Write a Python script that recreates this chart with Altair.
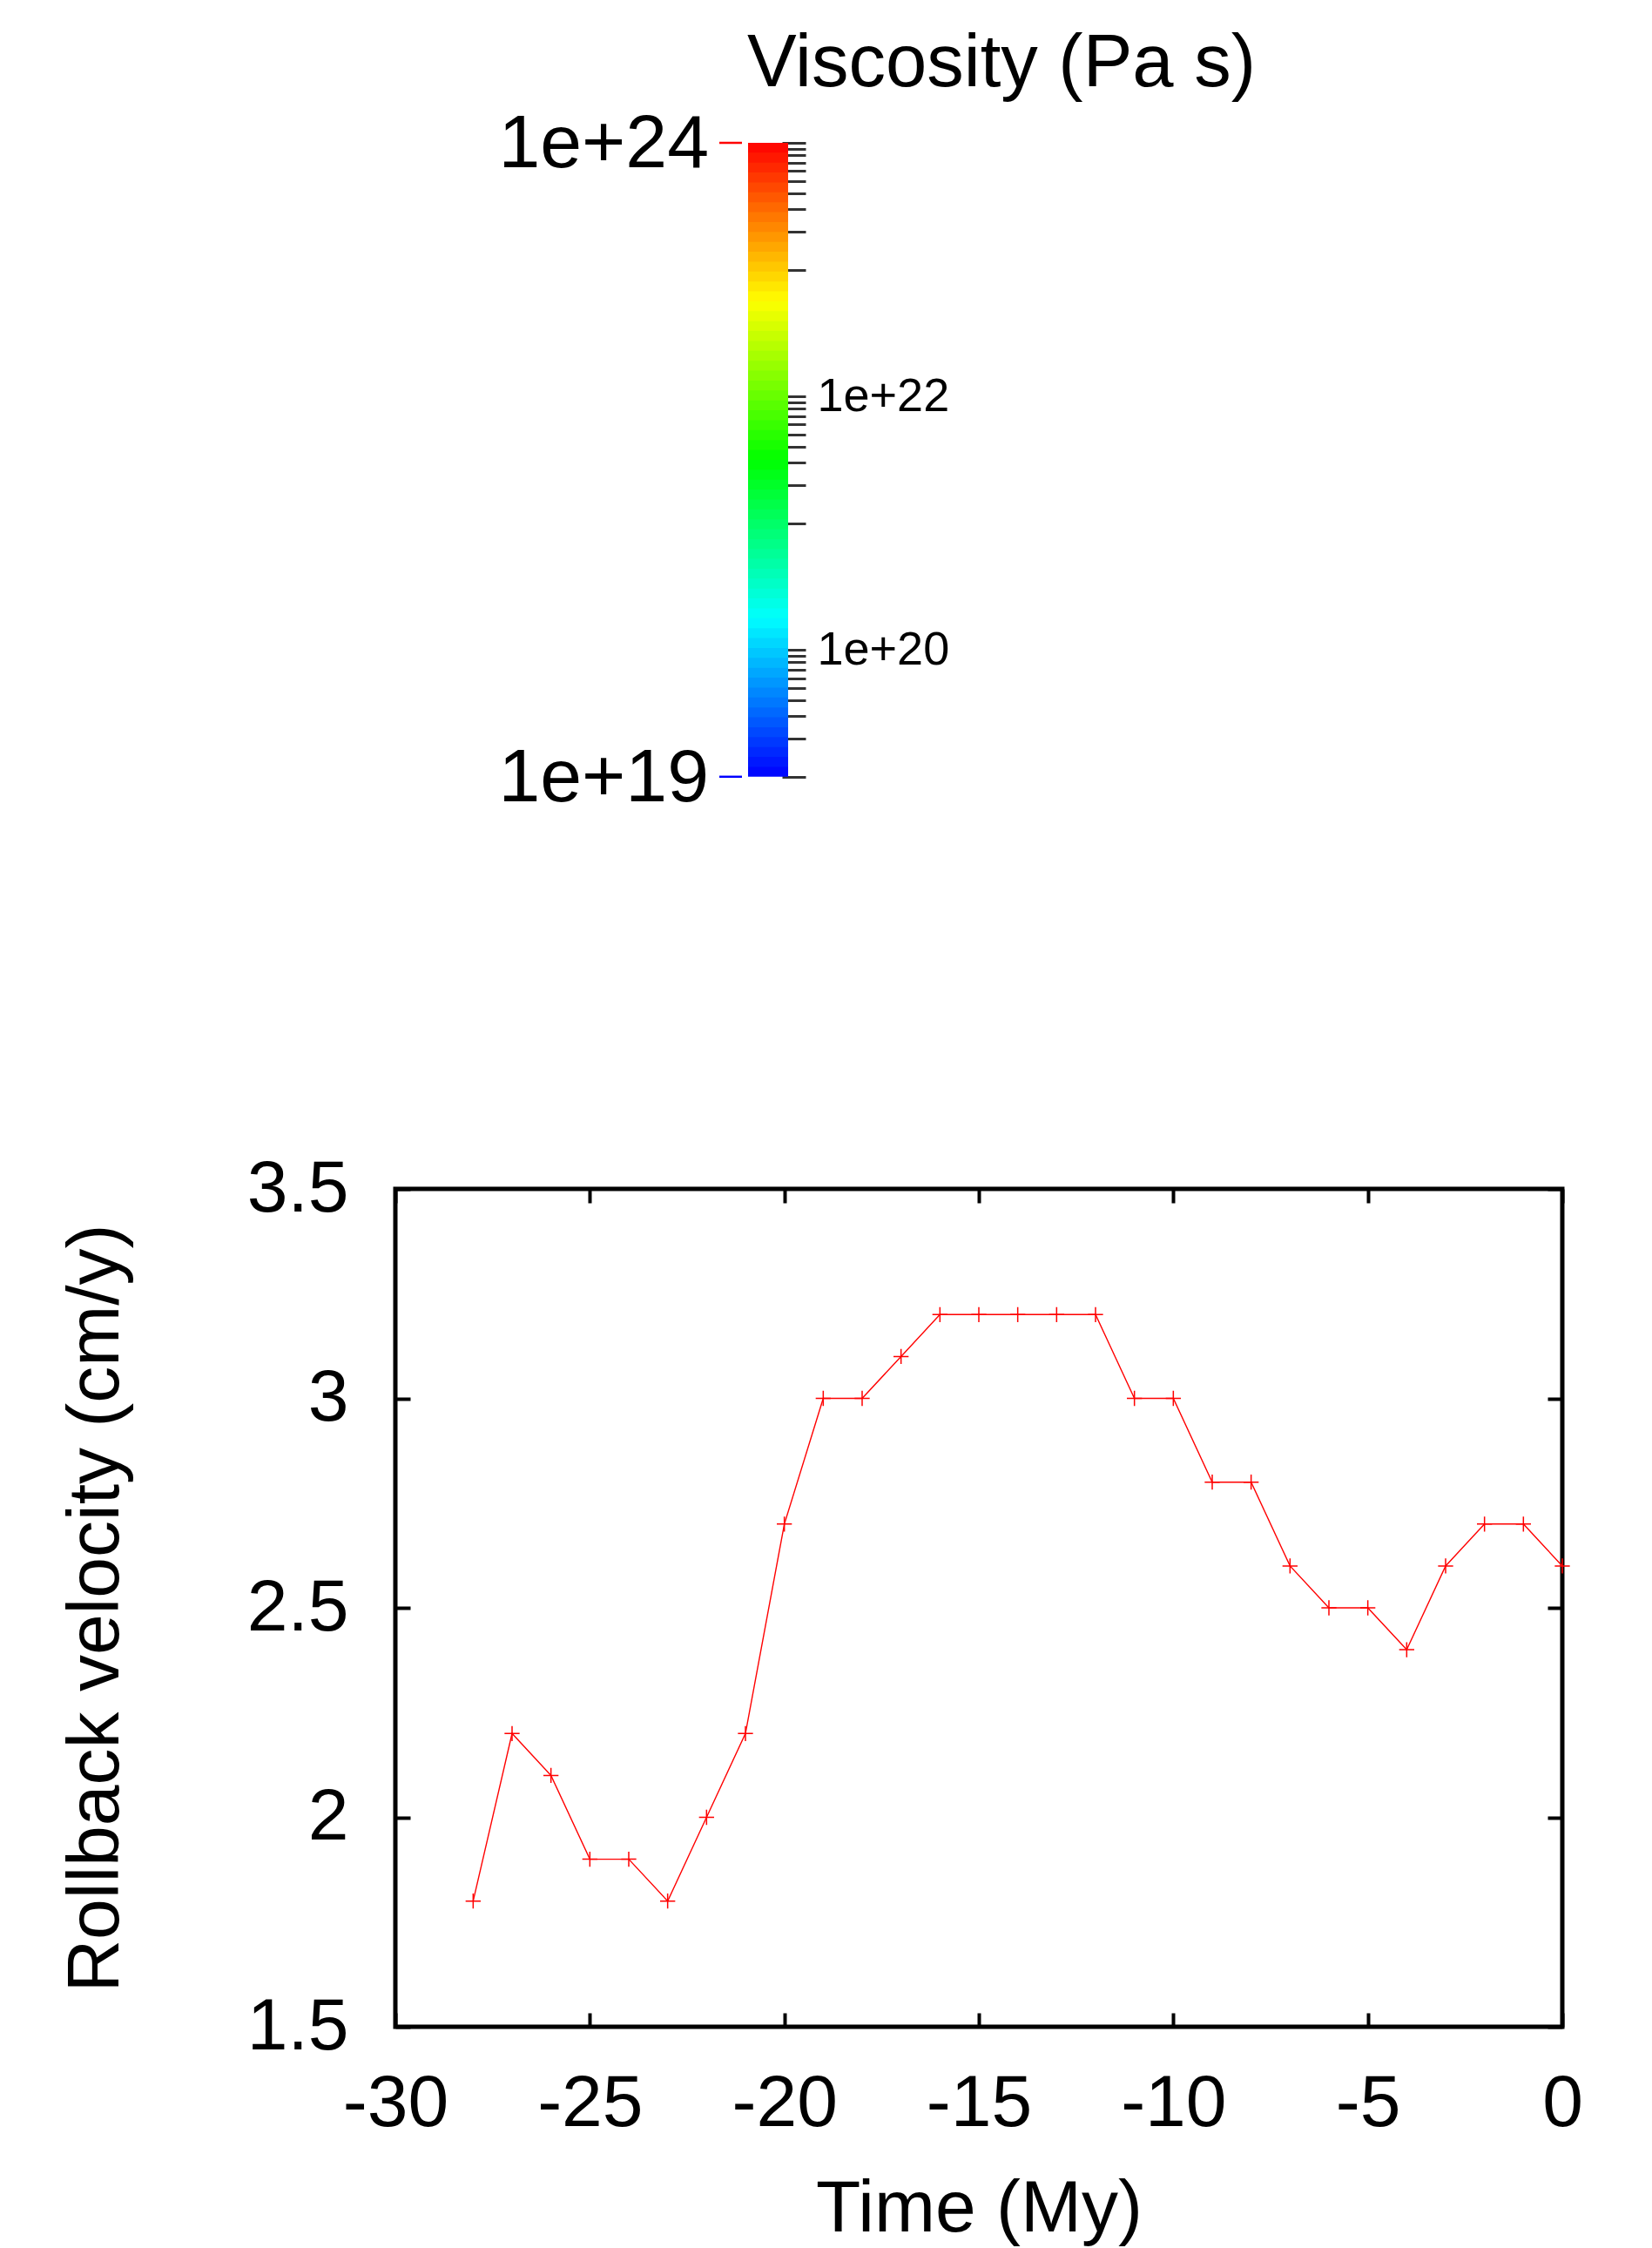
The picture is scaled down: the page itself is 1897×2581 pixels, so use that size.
import altair as alt
import pandas as pd
import numpy as np

# ---------------- data ----------------
time_my = [-28, -27, -26, -25, -24, -23, -22, -21, -20, -19, -18, -17, -16, -15,
           -14, -13, -12, -11, -10, -9, -8, -7, -6, -5, -4, -3, -2, -1, 0]
rollback = [1.8, 2.2, 2.1, 1.9, 1.9, 1.8, 2.0, 2.2, 2.7, 3.0, 3.0, 3.1, 3.2, 3.2,
            3.2, 3.2, 3.2, 3.0, 3.0, 2.8, 2.8, 2.6, 2.5, 2.5, 2.4, 2.6, 2.7, 2.7, 2.6]

x_domain = [-30, 0]
y_domain = [1.5, 3.5]
x_ticks = [-30, -25, -20, -15, -10, -5, 0]
y_ticks = [1.5, 2, 2.5, 3, 3.5]

# colour bar (viscosity, log scale)
cbar_domain = [1e19, 1e24]
cbar_end_values = [1e24, 1e19]
cbar_end_labels = ["1e+24", "1e+19"]
cbar_end_colors = ["#ff0000", "#0000ff"]
cbar_major_values = [1e22, 1e20]
cbar_minor_mantissas = [9, 8, 7, 6, 5, 4, 3, 2, 1]
cbar_minor_decades = [23, 21, 19]
cbar_colors = ["#0000ff", "#00ffff", "#00ff00", "#ffff00", "#ff0000"]
cbar_n_bands = 64

# ---------------- layout (chart coordinates) ----------------
W, H = 1870, 2573
FX0, FX1, FY0, FY1 = 446, 1786, 1357, 2319
FONT = "Liberation Sans"

XS = alt.Scale(domain=x_domain, range=[FX0, FX1], nice=False, zero=False)
YS = alt.Scale(domain=y_domain, range=[FY1, FY0], nice=False, zero=False)
CS = alt.Scale(type="log", domain=cbar_domain, range=[883.8, 156], nice=False)

df = pd.DataFrame({"time": time_my, "vel": rollback})
frame_df = pd.DataFrame({"x0": [x_domain[0]], "x1": [x_domain[1]],
                         "y0": [y_domain[0]], "y1": [y_domain[1]]})

minor_vals = [1e24] + [m * 10.0 ** d for d in cbar_minor_decades for m in cbar_minor_mantissas]
lo_exp = np.log10(cbar_domain[0])
hi_exp = np.log10(cbar_domain[1])
band_df = pd.DataFrame({
    "lo": [10 ** (lo_exp + (hi_exp - lo_exp) * k / cbar_n_bands) for k in range(cbar_n_bands)],
    "top": [cbar_domain[1]] * cbar_n_bands,
    "t": [(k + 0.5) / cbar_n_bands for k in range(cbar_n_bands)],
})
end_df = pd.DataFrame({"v": cbar_end_values, "lab": cbar_end_labels, "c": cbar_end_colors})
title_df = pd.DataFrame({"txt": ["Viscosity (Pa s)"]})

tick_common = dict(labels=False, domain=False, grid=False, ticks=True,
                   tickColor="black", tickWidth=4, title=None)

# ---------------- line chart ----------------
line = alt.Chart(df).mark_line(color="#ff0000", strokeWidth=1.4).encode(
    x=alt.X("time:Q", scale=XS, axis=alt.Axis(
        orient="bottom", offset=FY1 - H, values=x_ticks, ticks=False, tickSize=0,
        domain=False, grid=False, labelPadding=47, labelFlush=False,
        labelBaseline="top", labelFont=FONT, labelFontSize=84, labelColor="black",
        labelExpr="'' + datum.value",
        title="Time (My)", titleFont=FONT, titleFontSize=84, titleFontWeight="normal",
        titleColor="black", titleY=234, titleBaseline="alphabetic")),
    y=alt.Y("vel:Q", scale=YS, axis=alt.Axis(
        orient="left", offset=-FX0, values=y_ticks, ticks=False, tickSize=0,
        domain=False, grid=False, labelPadding=54, labelFlush=False,
        labelBaseline="middle", labelAlign="right", labelFont=FONT, labelFontSize=84,
        labelColor="black", labelExpr="'' + datum.value",
        title="Rollback velocity (cm/y)", titleFont=FONT, titleFontSize=84,
        titleFontWeight="normal", titleColor="black", titleAngle=270,
        titleX=127 - FX0, titleBaseline="alphabetic")),
)

points = alt.Chart(df).mark_point(
    shape="M-1,0L1,0M0,-1L0,1", filled=False, size=300, strokeWidth=1.5,
    color="#ff0000", opacity=1).encode(
    x=alt.X("time:Q", scale=XS, axis=alt.Axis(orient="top", offset=-FY1,
                                               values=x_ticks, tickSize=16, **tick_common)),
    y=alt.Y("vel:Q", scale=YS, axis=alt.Axis(orient="right", offset=FX0 - W,
                                              values=y_ticks, tickSize=17, **tick_common)),
)

frame = alt.Chart(frame_df).mark_rect(
    filled=False, stroke="black", strokeWidth=5, strokeJoin="miter").encode(
    x=alt.X("x0:Q", scale=XS, axis=alt.Axis(orient="bottom", offset=FY0 - H,
                                             values=x_ticks, tickSize=16, **tick_common)),
    x2="x1:Q",
    y=alt.Y("y0:Q", scale=YS, axis=alt.Axis(orient="left", offset=-FX1,
                                             values=y_ticks, tickSize=17, **tick_common)),
    y2="y1:Q",
)

# ---------------- colour bar ----------------
cb_tick_common = dict(labels=False, domain=False, grid=False, ticks=True,
                      tickColor="#333333", tickWidth=3, title=None)

bands = alt.Chart(band_df).mark_rect().encode(
    x=alt.value(851), x2=alt.value(897),
    y=alt.Y("lo:Q", scale=CS, axis=alt.Axis(orient="left", offset=-917,
                                             values=minor_vals, tickSize=27, **cb_tick_common)),
    y2="top:Q",
    color=alt.Color("t:Q", scale=alt.Scale(domain=[0, 1], range=cbar_colors,
                                           interpolate="rgb"), legend=None),
)

end_labels = alt.Chart(end_df).mark_text(
    align="right", baseline="alphabetic", dy=28, font=FONT, fontSize=86,
    color="black").encode(
    x=alt.value(806),
    y=alt.Y("v:Q", scale=CS, axis=alt.Axis(orient="left", offset=-917,
                                            values=cbar_major_values, tickSize=40,
                                            **cb_tick_common)),
    text="lab:N",
)

end_rules = alt.Chart(end_df).mark_rule(strokeWidth=2.5).encode(
    x=alt.value(818), x2=alt.value(844),
    y=alt.Y("v:Q", scale=CS, axis=alt.Axis(
        orient="right", offset=917 - W, values=cbar_major_values, ticks=False,
        tickSize=0, domain=False, grid=False, labelPadding=13, labelFont=FONT,
        labelFontSize=54, labelColor="black", labelBaseline="middle",
        labelAlign="left", labelExpr="format(datum.value, '.0e')", title=None)),
    stroke=alt.Stroke("c:N", scale=None, legend=None),
)

cb_title = alt.Chart(title_df).mark_text(
    align="center", baseline="alphabetic", font=FONT, fontSize=85,
    color="black").encode(
    x=alt.value(1142), y=alt.value(91), text="txt:N")

chart = alt.layer(
    frame, line, points, bands, end_labels, end_rules, cb_title
).resolve_scale(
    x="independent", y="independent", color="independent", stroke="independent"
).properties(
    width=W, height=H, padding=0,
    autosize=alt.AutoSizeParams(type="none"),
).configure_view(stroke=None).configure_axis(grid=False)

chart.save("out.html", embed_options={"renderer": "svg", "actions": False})
